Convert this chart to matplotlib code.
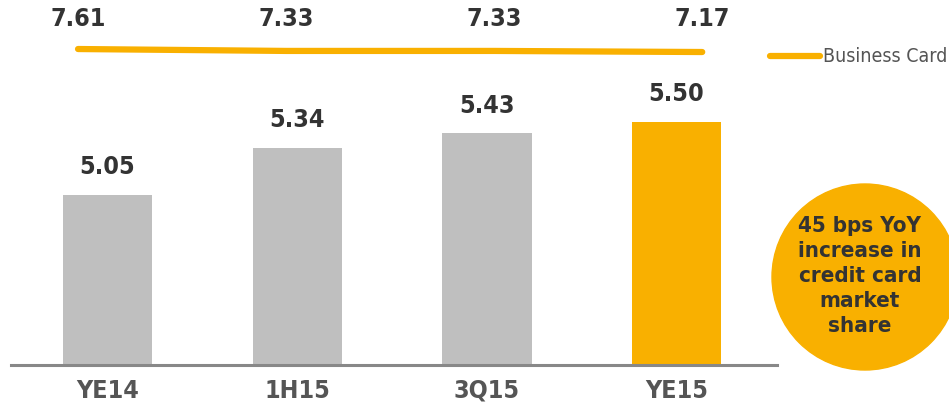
import matplotlib
matplotlib.use('Agg')
import matplotlib.pyplot as plt
from matplotlib.patches import Ellipse

periods = ['YE14', '1H15', '3Q15', 'YE15']
credit_share = [5.05, 5.34, 5.43, 5.50]
business_share = [7.61, 7.33, 7.33, 7.17]
bar_colors = ['#BFBFBF', '#BFBFBF', '#BFBFBF', '#F9B000']
note = '45 bps YoY\nincrease in\ncredit card\nmarket\nshare'

plt.rcParams['font.family'] = ['DejaVu Sans']
plt.rcParams['font.stretch'] = 'condensed'

fig = plt.figure(figsize=(9.49, 4.03), dpi=100)

# bars
ax = fig.add_axes([0, 38 / 403, 1, 365 / 403])
xs = range(len(periods))
ax.bar(xs, credit_share, width=0.47, color=bar_colors, zorder=2)
ax.set_xlim(-0.567, 4.436)
ax.set_ylim(4.0, 6.25)
for x, v in zip(xs, credit_share):
    ax.annotate(f'{v:.2f}', (x, v), xytext=(0, 11), textcoords='offset points',
                ha='center', va='bottom', fontsize=18, color='#333333',
                fontweight='semibold')
ax.set_xticks(list(xs))
ax.set_xticklabels(periods, fontsize=18, color='#555555', fontweight='semibold')
ax.tick_params(axis='x', length=0, pad=10)
ax.set_yticks([])
for s in ['left', 'right', 'top']:
    ax.spines[s].set_visible(False)
ax.spines['bottom'].set_color('#888888')
ax.spines['bottom'].set_linewidth(2.2)
ax.spines['bottom'].set_bounds(-0.509, 3.529)
ax.patch.set_alpha(0)

# business card line on its own scale
ax2 = fig.add_axes([0, 0, 1, 1])
ax2.patch.set_alpha(0)
ax2.axis('off')
ax2.set_xlim(-0.375, 4.186)
ax2.set_ylim(-44.31, 14.80)
line, = ax2.plot(xs, business_share, color='#F9B000', lw=4.5,
                 solid_capstyle='round', label='Business Card')
for x, v in zip(xs, business_share):
    ax2.text(x, 1 - 19 / 403, f'{v:.2f}', transform=ax2.get_xaxis_transform(),
             ha='center', va='center', fontsize=18, color='#333333',
             fontweight='semibold')
ax2.legend(handles=[line], loc='center left', bbox_to_anchor=(762 / 949, 1 - 57 / 403),
           frameon=False, fontsize=14, handlelength=2.6, handletextpad=0.15,
           labelcolor='#555555', borderaxespad=0)

# callout circle
circ = Ellipse((865 / 949, 1 - 277 / 403), 186 / 949, 186 / 403,
               transform=fig.transFigure, color='#F9B000', zorder=5)
fig.patches.append(circ)
fig.text(860 / 949, 1 - 276 / 403, note, ha='center', va='center', fontsize=16,
         fontweight='bold', color='#333333', linespacing=1.3, zorder=6)

fig.savefig('out.png', dpi=100)
